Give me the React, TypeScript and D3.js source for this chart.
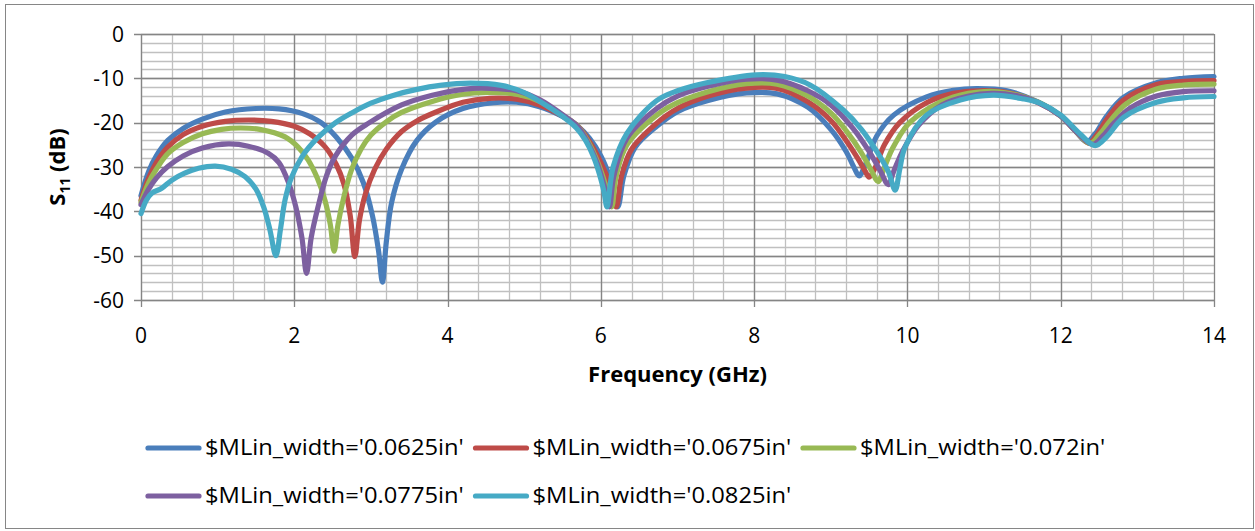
import { scaleLinear, line, curveCatmullRom, range } from "d3";

// [frequency GHz, S11 dB]
const w0625: [number, number][] = [
  [0, -36.5], [0.1, -31], [0.2, -27.5], [0.35, -24], [0.55, -21.3], [0.8, -19.2], [1.1, -17.6],
  [1.5, -16.8], [1.8, -16.9], [2.1, -17.9], [2.35, -20], [2.55, -23.3], [2.75, -28], [2.9, -33.5],
  [3.02, -41], [3.1, -49], [3.15, -56], [3.2, -47], [3.27, -38], [3.4, -30.5], [3.6, -24],
  [3.85, -19.8], [4.2, -16.8], [4.6, -15.5], [4.9, -15.4], [5.2, -16.4], [5.5, -18.6], [5.7, -20.8],
  [5.85, -23.5], [6.0, -27.5], [6.12, -32.5], [6.22, -39], [6.3, -32], [6.45, -25.5], [6.73, -20.8],
  [7.0, -17.5], [7.4, -15], [7.9, -13.3], [8.3, -13.5], [8.7, -16.5], [9.0, -21.5], [9.2, -26.5],
  [9.3, -30], [9.37, -32], [9.45, -29.5], [9.6, -23], [9.82, -18.3], [10.25, -14.2], [10.6, -12.7],
  [10.9, -12.3], [11.3, -12.8], [11.7, -15.3], [12.0, -18.5], [12.2, -22], [12.34, -24.3],
  [12.45, -22.5], [12.6, -18.5], [12.82, -14.3], [13.25, -11], [13.6, -10], [14, -9.6],
];
const w0675: [number, number][] = [
  [0, -37.5], [0.1, -32.5], [0.2, -29], [0.35, -25.5], [0.55, -22.7], [0.8, -20.8], [1.1, -19.7],
  [1.4, -19.4], [1.7, -19.7], [2.0, -20.8], [2.2, -22.5], [2.4, -25.4], [2.55, -29.5], [2.65, -34],
  [2.73, -41], [2.79, -50.2], [2.85, -42], [2.93, -36], [3.05, -30.5], [3.2, -26], [3.4, -22],
  [3.6, -19.6], [3.85, -17.6], [4.2, -15.4], [4.55, -14.5], [4.9, -14.7], [5.2, -16], [5.5, -18.5],
  [5.7, -20.8], [5.86, -24.5], [6.0, -29], [6.12, -34], [6.2, -39], [6.27, -32], [6.4, -26],
  [6.73, -20.1], [7.0, -16.8], [7.4, -14], [7.9, -12.2], [8.3, -12.3], [8.7, -15.3], [9.0, -19.5],
  [9.2, -24], [9.35, -28], [9.45, -31], [9.5, -32.3], [9.57, -30.5], [9.7, -25], [9.9, -20],
  [10.25, -15.5], [10.6, -13.4], [10.95, -12.8], [11.3, -13.2], [11.7, -15.4], [12.0, -18.5],
  [12.2, -22], [12.37, -24.6], [12.48, -22.5], [12.62, -18.8], [12.82, -14.9], [13.25, -11.4],
  [13.6, -10.7], [14, -10.5],
];
const w072: [number, number][] = [
  [0, -38], [0.1, -33.5], [0.2, -30.5], [0.35, -27], [0.55, -24.5], [0.8, -22.5], [1.05, -21.5],
  [1.3, -21.2], [1.55, -21.5], [1.88, -23.2], [2.05, -25.5], [2.18, -28.4], [2.3, -32.5],
  [2.4, -37.5], [2.47, -43], [2.52, -49], [2.57, -43], [2.65, -36.5], [2.75, -30.5], [2.87, -26],
  [3.0, -22.8], [3.2, -19.8], [3.4, -17.7], [3.8, -15.2], [4.2, -13.6], [4.5, -13.2], [4.9, -13.6],
  [5.2, -15.2], [5.5, -18.3], [5.7, -20.8], [5.84, -24.5], [5.96, -29], [6.06, -34], [6.14, -39],
  [6.2, -32], [6.34, -25], [6.73, -18.3], [7.0, -15.5], [7.4, -13], [7.9, -11.2], [8.3, -11.3],
  [8.7, -14], [9.0, -17.8], [9.2, -21.8], [9.4, -26.8], [9.52, -30.5], [9.62, -33.3], [9.68, -31],
  [9.8, -26], [10.0, -20.5], [10.3, -16.5], [10.6, -14.2], [11.0, -13], [11.3, -13.3], [11.7, -15.3],
  [12.0, -18.5], [12.2, -22], [12.38, -24.7], [12.5, -22.8], [12.65, -19.5], [12.85, -15.8],
  [13.25, -12.4], [13.6, -11.5], [14, -11.3],
];
const w0775: [number, number][] = [
  [0, -38.5], [0.1, -35], [0.2, -32.5], [0.35, -29.9], [0.55, -27.5], [0.8, -25.7], [1.14, -24.8],
  [1.4, -25.3], [1.66, -26.9], [1.8, -29], [1.92, -33.3], [2.02, -39], [2.1, -46], [2.16, -54],
  [2.22, -46], [2.31, -39], [2.42, -32], [2.53, -27.7], [2.75, -22.8], [2.97, -20.1], [3.4, -16],
  [3.8, -13.8], [4.2, -12.5], [4.45, -12.2], [4.9, -12.8], [5.2, -14.8], [5.5, -18.2], [5.7, -20.9],
  [5.83, -24.5], [5.95, -29], [6.04, -34], [6.11, -39], [6.17, -32], [6.34, -23.5], [6.73, -16.8],
  [7.0, -14], [7.4, -11.8], [7.9, -10.2], [8.3, -10.4], [8.7, -12.8], [9.0, -16], [9.3, -21.5],
  [9.5, -26.5], [9.65, -31], [9.75, -34], [9.82, -31], [9.95, -26], [10.15, -20.5], [10.45, -16],
  [10.8, -14], [11.1, -13.4], [11.4, -13.8], [11.7, -15.4], [12.0, -18.5], [12.2, -22],
  [12.42, -24.9], [12.55, -23], [12.7, -20], [12.9, -16.8], [13.25, -14], [13.6, -13], [14, -12.8],
];
const w0825: [number, number][] = [
  [0, -40.5], [0.07, -37.5], [0.14, -35.9], [0.27, -34.8], [0.4, -33], [0.57, -31.4], [0.75, -30.3],
  [0.97, -29.8], [1.18, -30.5], [1.36, -32.2], [1.5, -35], [1.6, -39], [1.68, -44], [1.76, -50],
  [1.82, -44], [1.88, -37.4], [1.96, -32.5], [2.1, -27.7], [2.3, -23.5], [2.53, -20.1], [2.75, -17.8],
  [3.0, -15.6], [3.3, -13.8], [3.6, -12.5], [3.9, -11.6], [4.3, -11.1], [4.7, -11.6], [5.0, -13.2],
  [5.21, -15.3], [5.5, -18.6], [5.68, -21.2], [5.8, -24], [5.9, -27.5], [5.98, -31.5], [6.04, -35.5],
  [6.08, -39], [6.16, -30], [6.34, -22.4], [6.73, -15], [7.0, -12.8], [7.38, -11], [8.03, -9.2],
  [8.4, -9.6], [8.73, -11.5], [9.16, -17.1], [9.4, -21.5], [9.6, -26.5], [9.75, -31], [9.84, -35.2],
  [9.9, -30.5], [9.97, -25.5], [10.25, -18.3], [10.69, -14.9], [11.12, -13.8], [11.5, -14.6],
  [11.73, -15.6], [12.0, -18.3], [12.25, -22.5], [12.45, -25.2], [12.6, -23.2], [12.82, -18.8],
  [13.25, -15.4], [13.6, -14.4], [14, -14.1],
];

const seriesNames = [
  "$MLin_width='0.0625in'",
  "$MLin_width='0.0675in'",
  "$MLin_width='0.072in'",
  "$MLin_width='0.0775in'",
  "$MLin_width='0.0825in'",
];
const seriesData = [w0625, w0675, w072, w0775, w0825];
const seriesColors = ["#4A7EBB", "#BE4B48", "#98B954", "#7D60A0", "#46AAC5"];

const xTicks = [0, 2, 4, 6, 8, 10, 12, 14];
const yTicks = [0, -10, -20, -30, -40, -50, -60];

const width = 1255;
const height = 531;
const marginLeft = 141;
const marginRight = 41;
const marginTop = 34;
const marginBottom = 231;
const font = "'Open Sans', sans-serif";

// legend: 3 equal columns, 2 rows
const legendCol = 327.5;
const legendX0 = 148;
const legendRows = [448, 496];

export default function App() {
  const x = scaleLinear().domain([0, 14]).range([marginLeft, width - marginRight]);
  const y = scaleLinear().domain([-60, 0]).range([height - marginBottom, marginTop]);
  const px = (v: number) => Math.round(v) + 0.5;

  const path = line<[number, number]>()
    .x((d) => x(d[0]))
    .y((d) => y(d[1]))
    .curve(curveCatmullRom.alpha(0.5));

  const minorX = range(0, 35).map((i) => i * 0.4);
  const minorY = range(0, 31).map((i) => -i * 2);

  return (
    <svg
      width={width}
      height={height}
      style={{ position: "absolute", left: 0, top: 0, background: "#fff" }}
      fontFamily={font}>
      <rect x={5.5} y={4.5} width={1248} height={524} fill="#fff" stroke="#868686" strokeWidth={1} />

      {/* minor grid */}
      {minorX.map((v) => (
        <line key={"mx" + v} x1={px(x(v))} x2={px(x(v))} y1={y(0)} y2={y(-60)} stroke="#c0c0c0" strokeWidth={1.3} />
      ))}
      {minorY.map((v) => (
        <line key={"my" + v} x1={x(0)} x2={x(14)} y1={px(y(v))} y2={px(y(v))} stroke="#c0c0c0" strokeWidth={1.3} />
      ))}
      {/* major grid + ticks */}
      {xTicks.map((v) => (
        <g key={"x" + v}>
          <line x1={px(x(v))} x2={px(x(v))} y1={y(0)} y2={y(-60) + 7} stroke="#858585" strokeWidth={1.3} />
          <text x={x(v)} y={343} textAnchor="middle" fontSize={21} fill="#000">
            {v}
          </text>
        </g>
      ))}
      {yTicks.map((v) => (
        <g key={"y" + v}>
          <line x1={x(0) - 7} x2={x(14)} y1={px(y(v))} y2={px(y(v))} stroke="#858585" strokeWidth={1.3} />
          <text x={124} y={y(v)} dy="0.36em" textAnchor="end" fontSize={21} fill="#000">
            {v}
          </text>
        </g>
      ))}

      {seriesData.map((d, i) => (
        <path
          key={seriesNames[i]}
          d={path(d) ?? ""}
          fill="none"
          stroke={seriesColors[i]}
          strokeWidth={5.2}
          strokeLinejoin="round"
          strokeLinecap="round"
        />
      ))}

      <text x={(x(0) + x(14)) / 2} y={382} textAnchor="middle" fontSize={22} fontWeight="bold" fill="#000">
        Frequency (GHz)
      </text>
      <text
        transform={`translate(65, ${(y(0) + y(-60)) / 2}) rotate(-90)`}
        textAnchor="middle"
        fontSize={22}
        fontWeight="bold"
        fill="#000">
        S<tspan fontSize={14} dy={5}>11</tspan>
        <tspan dy={-5}> (dB)</tspan>
      </text>

      {seriesNames.map((name, i) => {
        const lx = legendX0 + (i % 3) * legendCol;
        const ly = legendRows[Math.floor(i / 3)];
        return (
          <g key={"lg" + name}>
            <line x1={lx} x2={lx + 51} y1={ly} y2={ly} stroke={seriesColors[i]} strokeWidth={5.2} strokeLinecap="round" />
            <g transform={`translate(${lx + 57}, ${ly}) scale(1.12, 1)`}>
              <text x={0} y={0} dy="0.35em" fontSize={21.2} fill="#000">
                {name}
              </text>
            </g>
          </g>
        );
      })}
    </svg>
  );
}
